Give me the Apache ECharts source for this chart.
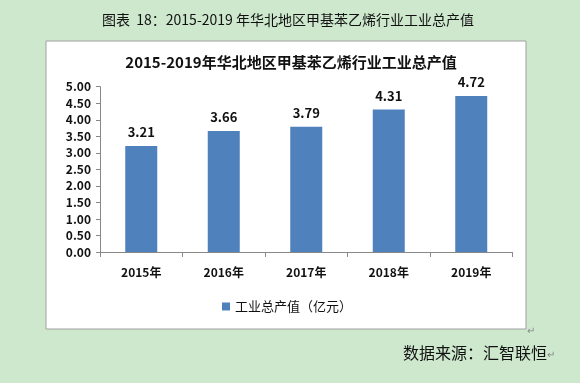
<!DOCTYPE html>
<html>
<head>
<meta charset="utf-8">
<script src="https://cdn.jsdelivr.net/npm/echarts@6/dist/echarts.min.js"></script>
<style>
html,body{margin:0;padding:0;background:#cde8cd;}
#c{width:580px;height:383px;}
</style>
</head>
<body>
<div id="c"></div>
<script>
var categories = ['2015年', '2016年', '2017年', '2018年', '2019年'];
var values = [3.21, 3.66, 3.79, 4.31, 4.72];
var seriesName = '工业总产值（亿元）';
var chartTitle = '2015-2019年华北地区甲基苯乙烯行业工业总产值';
var caption = '图表  18：2015-2019 年华北地区甲基苯乙烯行业工业总产值';
var sourceText = '数据来源：汇智联恒';

var font = '"Noto Sans CJK SC", "Noto Sans", sans-serif';
var chart = echarts.init(document.getElementById('c'), null, {renderer: 'canvas'});
chart.setOption({
  backgroundColor: '#cde8cd',
  animation: false,
  graphic: [
    {type: 'rect', z: -10, shape: {x: 46, y: 41, width: 480, height: 288},
     style: {fill: '#ffffff', stroke: '#a0a0a0', lineWidth: 1}},
    {type: 'text', left: 102, top: 13,
     style: {text: caption, font: '14px ' + font, fill: '#111'}},
    {type: 'text', left: 465, top: 15,
     style: {text: '↵', font: '10px ' + font, fill: '#888'}},
    {type: 'text', left: 527, top: 325,
     style: {text: '↵', font: '10px ' + font, fill: '#888'}},
    {type: 'text', left: 403, top: 345,
     style: {text: sourceText, font: '16px ' + font, fill: '#111'}},
    {type: 'text', left: 547, top: 349,
     style: {text: '↵', font: '10px ' + font, fill: '#888'}}
  ],
  title: {
    text: chartTitle,
    left: 286, textAlign: 'center', top: 50,
    textStyle: {fontFamily: font, fontSize: 15, fontWeight: 'bold', color: '#111'}
  },
  legend: {
    data: [seriesName],
    left: 222, top: 300, padding: 0,
    itemWidth: 8, itemHeight: 8, itemGap: 5,
    icon: 'rect',
    textStyle: {fontFamily: font, fontSize: 13, color: '#111'}
  },
  grid: {left: 100, right: 67.5, top: 86.7, bottom: 131, containLabel: false},
  xAxis: {
    type: 'category',
    data: categories,
    axisLine: {lineStyle: {color: '#888', width: 1}},
    axisTick: {show: true, length: 5, lineStyle: {color: '#888'}},
    axisLabel: {fontFamily: font, fontSize: 12, fontWeight: 'bold', color: '#111', margin: 14}
  },
  yAxis: {
    type: 'value',
    min: 0, max: 5, interval: 0.5,
    axisLine: {show: true, lineStyle: {color: '#888', width: 1}},
    axisTick: {show: true, length: 4, lineStyle: {color: '#888'}},
    splitLine: {show: false},
    axisLabel: {fontFamily: font, fontSize: 12, fontWeight: 'bold', color: '#111', margin: 9,
      formatter: function (v) { return v.toFixed(2); }}
  },
  series: [{
    name: seriesName,
    type: 'bar',
    data: values,
    barWidth: 32,
    itemStyle: {color: '#4f81bd'},
    label: {show: true, position: 'top', distance: 7,
      fontFamily: font, fontSize: 13, fontWeight: 'bold', color: '#111',
      formatter: function (p) { return p.value.toFixed(2); }}
  }]
});
</script>
</body>
</html>
